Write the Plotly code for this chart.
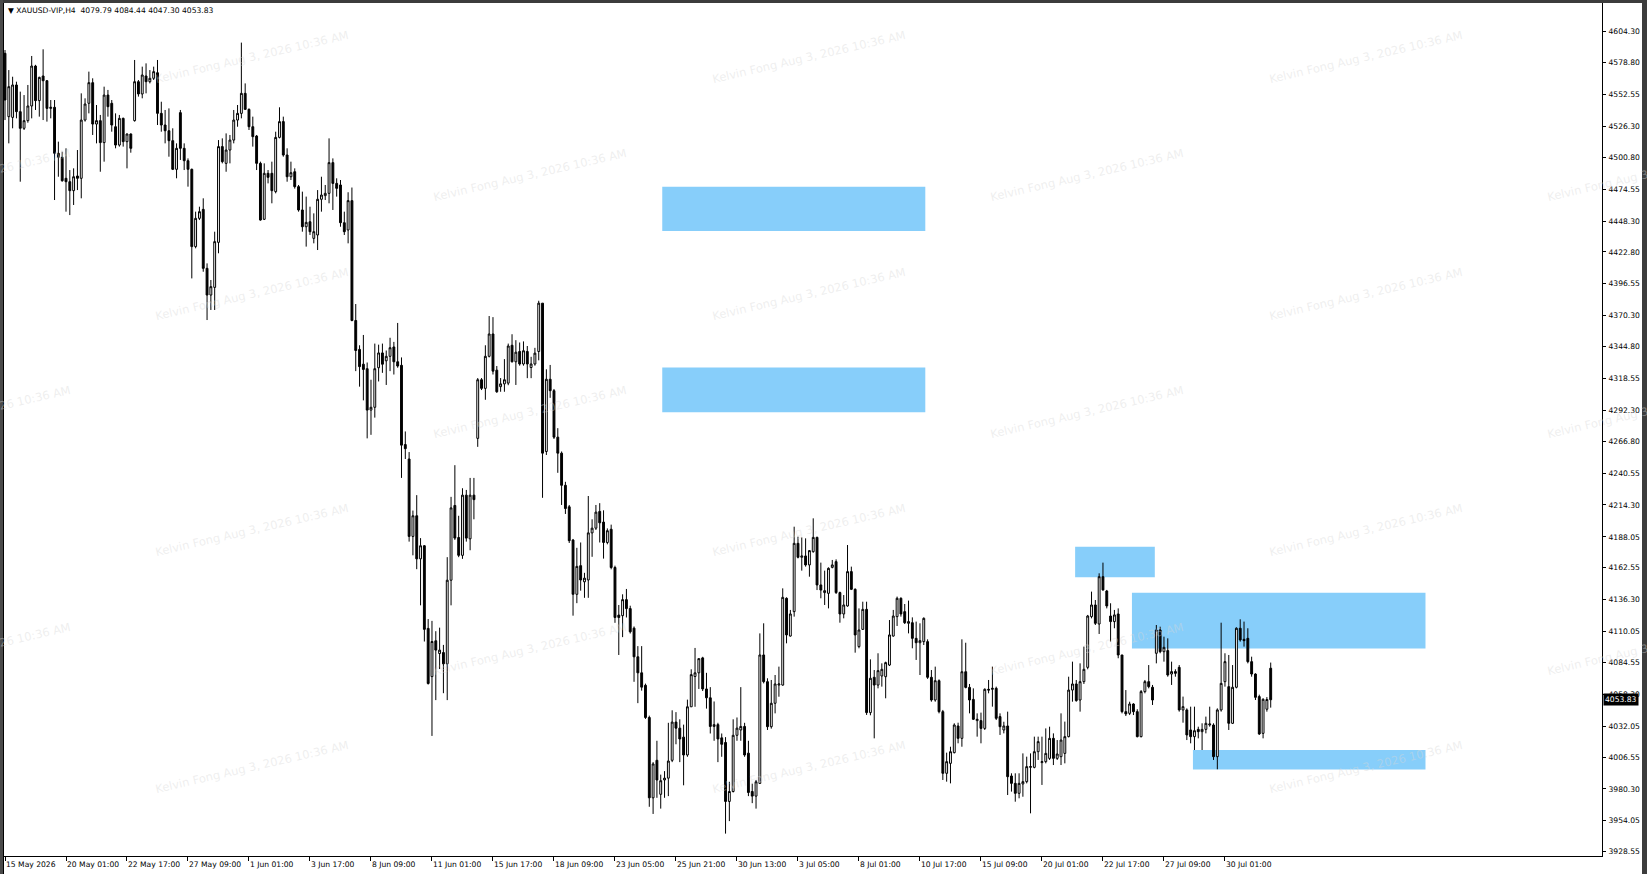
import plotly.graph_objects as go

# ---------------- data (XAUUSD-VIP, H4) ----------------
open_ = [
    4586.5, 4534.3, 4533.7, 4560.4, 4538.4, 4524.7, 4531.0, 4543.1, 4576.0, 4547.5,
    4567.8, 4563.9, 4541.1, 4542.0, 4504.1, 4500.8, 4483.5, 4480.7, 4473.3, 4485.4,
    4483.5, 4531.5, 4545.3, 4562.3, 4528.2, 4531.0, 4512.9, 4552.1, 4545.3, 4526.0,
    4510.9, 4532.9, 4513.7, 4520.0, 4531.0, 4563.1, 4553.0, 4567.8, 4563.1, 4565.9,
    4570.5, 4537.0, 4527.4, 4522.7, 4514.5, 4490.9, 4537.6, 4508.2, 4498.0, 4490.9,
    4427.2, 4450.5, 4457.9, 4409.3, 4387.3, 4393.6, 4430.7, 4509.6, 4495.8, 4506.8,
    4515.0, 4531.5, 4537.0, 4553.5, 4540.3, 4526.0, 4518.3, 4495.8, 4449.7, 4487.6,
    4487.6, 4472.5, 4517.2, 4530.2, 4502.7, 4484.8, 4488.9, 4476.6, 4457.4, 4443.6,
    4447.7, 4434.0, 4436.8, 4466.2, 4469.2, 4471.1, 4496.4, 4479.3, 4478.0, 4446.9,
    4440.9, 4465.1, 4366.3, 4342.5, 4330.3, 4326.6, 4292.5, 4294.8, 4327.4, 4339.6,
    4333.1, 4336.8, 4344.5, 4332.3, 4329.4, 4264.1, 4252.2, 4188.4, 4205.4, 4169.9,
    4180.7, 4112.6, 4072.9, 4102.4, 4091.9, 4092.7, 4083.4, 4152.3, 4213.9, 4187.5,
    4172.8, 4222.4, 4186.4, 4222.4, 4269.2, 4317.5, 4310.4, 4336.8, 4355.2, 4325.4,
    4311.8, 4314.1, 4314.7, 4345.9, 4332.3, 4340.8, 4330.5, 4340.8, 4327.6, 4330.5,
    4340.8, 4380.6, 4258.4, 4317.9, 4308.5, 4270.2, 4257.0, 4230.5, 4212.8, 4185.4,
    4140.7, 4164.3, 4151.0, 4152.5, 4191.3, 4195.2, 4209.0, 4200.2, 4183.4, 4194.3,
    4162.8, 4123.6, 4123.1, 4136.3, 4128.9, 4112.8, 4089.2, 4076.0, 4065.7, 4039.2,
    3973.0, 4003.9, 3975.9, 3987.7, 3989.2, 4003.9, 4035.4, 4030.4, 4023.0, 4008.3,
    4048.0, 4073.0, 4076.0, 4088.3, 4062.7, 4055.4, 4031.8, 4033.3, 4022.4, 4018.6,
    3970.0, 3978.2, 4024.5, 4028.9, 4031.8, 4009.8, 3978.2, 3974.4, 3984.9, 4090.7,
    4068.7, 4031.6, 4050.9, 4065.9, 4065.9, 4137.4, 4106.3, 4126.4, 4182.7, 4171.2,
    4172.3, 4164.9, 4175.8, 4187.6, 4148.4, 4142.1, 4141.5, 4162.9, 4167.6, 4142.1,
    4124.5, 4131.1, 4159.4, 4144.8, 4097.6, 4111.8, 4128.3, 4043.2, 4072.3, 4065.9,
    4073.4, 4072.8, 4082.4, 4106.3, 4122.3, 4137.4, 4126.4, 4116.8, 4117.3, 4104.4,
    4100.8, 4101.7, 4101.7, 4072.3, 4053.6, 4069.5, 4044.0, 3993.2, 4001.4, 4010.2,
    4032.2, 4022.0, 4076.9, 4064.0, 4054.1, 4036.6, 4036.6, 4030.2, 4062.4, 4062.4,
    4063.2, 4039.9, 4028.9, 4032.2, 3991.0, 3984.9, 3976.7, 3984.4, 3986.3, 3998.1,
    3998.1, 4011.0, 4002.0, 4002.8, 4005.5, 4022.0, 4005.5, 4006.9, 4009.6, 4023.4,
    4061.8, 4066.8, 4053.6, 4068.7, 4080.5, 4122.3, 4131.9, 4116.2, 4155.2, 4143.4,
    4122.8, 4118.2, 4124.5, 4090.7, 4044.0, 4042.6, 4050.3, 4044.0, 4023.4, 4060.5,
    4068.7, 4064.1, 4092.1, 4111.3, 4093.4, 4094.3, 4075.0, 4077.0, 4080.5, 4045.4,
    4045.4, 4028.9, 4023.4, 4029.4, 4027.5, 4029.4, 4033.0, 4033.0, 4006.9, 4045.4,
    4068.7, 4064.6, 4034.4, 4064.1, 4112.7, 4103.6, 4104.4, 4085.2, 4075.0, 4056.4,
    4026.1, 4046.0, 4079.79,
]
high = [
    4589.2, 4572.7, 4567.2, 4563.1, 4554.9, 4552.1, 4560.4, 4584.3, 4577.0, 4567.2,
    4589.8, 4564.5, 4548.0, 4548.0, 4513.7, 4505.4, 4508.2, 4490.3, 4491.7, 4506.8,
    4553.5, 4549.4, 4571.4, 4565.9, 4543.9, 4535.7, 4559.0, 4556.3, 4548.0, 4537.0,
    4535.7, 4533.5, 4520.5, 4520.5, 4581.0, 4564.5, 4575.5, 4578.2, 4572.7, 4575.5,
    4581.0, 4546.6, 4539.8, 4541.1, 4524.7, 4512.3, 4539.8, 4512.3, 4499.9, 4491.5,
    4456.0, 4460.1, 4467.0, 4413.4, 4399.7, 4439.5, 4515.0, 4516.4, 4520.5, 4519.2,
    4539.8, 4543.9, 4595.3, 4561.7, 4541.1, 4534.3, 4519.2, 4497.2, 4495.8, 4490.3,
    4497.2, 4521.9, 4542.0, 4534.3, 4508.2, 4497.2, 4491.7, 4478.0, 4472.5, 4468.4,
    4460.1, 4454.6, 4473.8, 4484.8, 4478.0, 4516.4, 4499.9, 4483.5, 4482.1, 4456.0,
    4472.0, 4475.9, 4379.9, 4345.9, 4354.4, 4331.7, 4317.5, 4347.3, 4346.4, 4347.3,
    4341.6, 4352.1, 4348.7, 4364.3, 4335.9, 4274.9, 4257.9, 4209.7, 4222.4, 4187.0,
    4181.3, 4120.3, 4118.8, 4110.3, 4113.2, 4099.0, 4171.3, 4221.0, 4247.1, 4205.4,
    4228.1, 4226.7, 4236.6, 4236.6, 4318.9, 4318.9, 4345.9, 4370.0, 4369.1, 4328.8,
    4318.9, 4334.5, 4347.3, 4355.0, 4350.1, 4348.2, 4349.1, 4345.3, 4336.4, 4343.8,
    4382.6, 4380.6, 4326.1, 4329.7, 4309.9, 4277.6, 4258.4, 4233.4, 4214.3, 4186.3,
    4179.0, 4183.4, 4158.4, 4221.7, 4202.5, 4214.3, 4215.8, 4209.9, 4195.0, 4198.1,
    4164.3, 4131.9, 4140.7, 4145.1, 4131.3, 4114.2, 4098.0, 4098.0, 4067.1, 4040.7,
    4002.4, 4020.0, 3992.1, 3995.0, 4034.8, 4045.1, 4043.6, 4037.7, 4033.3, 4053.9,
    4078.9, 4096.5, 4087.7, 4089.2, 4076.0, 4064.2, 4052.4, 4034.8, 4026.0, 4023.0,
    3986.2, 4037.7, 4039.2, 4064.2, 4034.8, 4020.0, 3984.7, 3987.7, 4108.5, 4116.8,
    4071.5, 4070.1, 4074.2, 4081.1, 4145.6, 4138.2, 4127.8, 4196.4, 4188.2, 4187.6,
    4186.8, 4177.2, 4203.3, 4188.2, 4166.8, 4160.2, 4162.9, 4169.0, 4169.5, 4142.9,
    4140.1, 4181.3, 4163.5, 4145.6, 4129.1, 4134.6, 4134.6, 4087.1, 4078.3, 4092.1,
    4083.8, 4085.2, 4119.5, 4127.8, 4138.8, 4138.2, 4132.7, 4135.5, 4121.7, 4118.2,
    4116.8, 4121.7, 4103.6, 4078.3, 4081.1, 4070.6, 4045.4, 4010.2, 4015.1, 4034.4,
    4034.9, 4103.6, 4100.8, 4066.8, 4063.2, 4042.6, 4043.2, 4063.2, 4070.1, 4081.1,
    4064.6, 4042.6, 4035.7, 4044.0, 3993.2, 3993.2, 3993.2, 4009.6, 4006.9, 4009.6,
    4023.4, 4023.4, 4023.4, 4030.2, 4031.6, 4026.1, 4020.6, 4042.6, 4035.8, 4072.8,
    4085.2, 4070.1, 4083.8, 4097.6, 4123.7, 4142.9, 4136.0, 4158.0, 4166.8, 4144.3,
    4133.3, 4127.8, 4129.1, 4090.7, 4061.8, 4052.2, 4050.9, 4046.0, 4061.8, 4070.1,
    4082.4, 4066.0, 4115.4, 4114.0, 4105.8, 4104.4, 4085.2, 4078.9, 4082.4, 4056.4,
    4046.7, 4048.1, 4048.1, 4031.6, 4034.4, 4039.9, 4048.1, 4034.4, 4046.7, 4117.3,
    4092.1, 4090.7, 4082.4, 4113.5, 4120.1, 4118.2, 4112.7, 4089.3, 4075.6, 4058.0,
    4055.0, 4056.0, 4084.44,
]
low = [
    4531.5, 4512.3, 4524.7, 4532.9, 4480.7, 4523.3, 4529.3, 4532.9, 4539.8, 4534.3,
    4531.5, 4530.2, 4532.9, 4465.6, 4484.8, 4480.7, 4456.0, 4453.2, 4461.5, 4473.8,
    4467.0, 4530.2, 4537.0, 4519.2, 4512.3, 4488.9, 4497.2, 4534.3, 4521.9, 4508.2,
    4509.6, 4509.6, 4491.7, 4504.6, 4530.2, 4550.8, 4549.4, 4553.5, 4561.7, 4564.5,
    4527.4, 4521.9, 4512.3, 4501.3, 4490.3, 4483.5, 4498.6, 4490.3, 4476.6, 4401.0,
    4425.8, 4449.1, 4406.5, 4366.7, 4375.0, 4375.0, 4421.7, 4495.8, 4488.9, 4495.8,
    4512.3, 4526.0, 4532.9, 4539.8, 4523.3, 4509.6, 4490.3, 4448.6, 4449.1, 4479.3,
    4462.9, 4471.1, 4516.4, 4501.3, 4480.7, 4482.1, 4475.0, 4456.0, 4439.5, 4427.2,
    4436.8, 4429.9, 4424.4, 4456.0, 4465.6, 4462.9, 4457.4, 4468.4, 4443.6, 4436.8,
    4429.9, 4365.7, 4324.6, 4311.8, 4300.5, 4269.2, 4272.1, 4286.3, 4316.1, 4323.2,
    4313.2, 4324.6, 4321.8, 4327.4, 4236.6, 4252.2, 4184.1, 4172.8, 4161.4, 4131.6,
    4101.8, 4066.3, 4024.0, 4053.5, 4079.1, 4059.2, 4053.5, 4131.6, 4185.5, 4171.3,
    4169.9, 4184.1, 4177.0, 4202.5, 4262.2, 4309.0, 4301.0, 4335.9, 4321.8, 4306.7,
    4307.6, 4307.6, 4313.0, 4331.7, 4313.2, 4329.1, 4329.1, 4318.8, 4318.8, 4329.1,
    4333.5, 4220.2, 4255.5, 4302.6, 4268.7, 4240.8, 4214.3, 4206.9, 4183.0, 4123.1,
    4133.4, 4143.7, 4137.8, 4137.8, 4171.6, 4193.7, 4183.4, 4170.1, 4181.9, 4161.3,
    4117.2, 4090.7, 4105.4, 4121.6, 4108.4, 4068.6, 4051.0, 4061.3, 4038.0, 3965.6,
    3959.7, 3973.0, 3964.1, 3973.0, 3974.4, 4002.4, 4017.1, 4002.4, 3983.3, 4006.8,
    4048.0, 4048.0, 4062.7, 4061.0, 4046.5, 4026.0, 4020.0, 4002.4, 4006.8, 3943.5,
    3953.8, 3977.4, 4020.0, 4020.0, 4006.8, 3974.4, 3968.6, 3964.1, 3984.4, 4067.3,
    4028.9, 4030.0, 4042.6, 4056.3, 4065.4, 4100.3, 4105.8, 4122.3, 4170.3, 4160.2,
    4163.5, 4155.2, 4175.0, 4144.2, 4137.4, 4131.9, 4129.1, 4162.1, 4141.0, 4117.3,
    4120.9, 4130.5, 4144.2, 4092.6, 4096.2, 4111.3, 4041.3, 4041.0, 4022.0, 4063.2,
    4064.6, 4055.0, 4081.6, 4105.8, 4114.6, 4122.3, 4116.2, 4108.5, 4096.2, 4086.6,
    4074.2, 4098.9, 4071.0, 4052.2, 4052.2, 4042.6, 3987.7, 3986.3, 3984.9, 4009.6,
    4017.9, 4015.1, 4063.2, 4042.6, 4037.1, 4023.4, 4017.9, 4028.9, 4059.1, 4048.1,
    4037.1, 4024.8, 4026.1, 3975.3, 3978.1, 3969.8, 3972.6, 3973.9, 3984.9, 3960.2,
    3997.3, 4004.2, 3983.6, 4001.4, 4004.2, 4000.0, 4004.2, 4000.0, 4001.4, 4022.8,
    4052.2, 4052.2, 4044.0, 4066.8, 4078.9, 4120.9, 4115.4, 4108.0, 4143.7, 4129.1,
    4101.7, 4112.7, 4088.0, 4042.6, 4040.4, 4041.2, 4041.2, 4022.8, 4022.8, 4059.1,
    4063.2, 4049.5, 4083.8, 4092.1, 4085.2, 4072.8, 4066.0, 4072.8, 4044.0, 4034.9,
    4020.6, 4017.9, 4012.4, 4022.0, 4012.4, 4026.1, 4031.6, 4004.2, 3996.5, 4044.0,
    4064.6, 4028.9, 4033.8, 4063.2, 4101.7, 4097.6, 4083.8, 4072.8, 4053.6, 4024.8,
    4022.0, 4044.0, 4047.30,
]
close = [
    4548.0, 4559.0, 4560.4, 4538.4, 4524.7, 4531.0, 4543.1, 4576.0, 4547.5, 4566.7,
    4563.9, 4541.1, 4542.0, 4504.1, 4500.8, 4481.5, 4480.7, 4473.3, 4484.8, 4483.5,
    4531.5, 4544.7, 4562.3, 4528.2, 4531.0, 4512.9, 4552.1, 4542.5, 4527.4, 4510.9,
    4532.9, 4513.7, 4520.0, 4508.2, 4563.1, 4553.0, 4568.6, 4563.1, 4565.9, 4571.4,
    4537.0, 4527.4, 4522.7, 4514.5, 4490.9, 4508.2, 4508.2, 4498.0, 4490.9, 4427.2,
    4450.5, 4456.0, 4409.3, 4387.3, 4394.2, 4431.3, 4509.6, 4497.2, 4506.8, 4515.0,
    4531.5, 4537.0, 4553.5, 4540.3, 4526.0, 4517.8, 4495.8, 4449.1, 4487.6, 4484.3,
    4473.3, 4517.2, 4530.2, 4502.7, 4484.8, 4488.1, 4476.6, 4457.4, 4443.6, 4447.2,
    4439.5, 4439.5, 4466.2, 4469.7, 4471.1, 4496.4, 4479.3, 4475.2, 4446.9, 4439.5,
    4465.1, 4366.3, 4341.6, 4328.3, 4326.0, 4292.5, 4294.8, 4326.6, 4339.6, 4330.3,
    4336.8, 4343.9, 4332.3, 4328.8, 4263.6, 4260.7, 4188.4, 4205.4, 4169.9, 4180.7,
    4111.8, 4067.2, 4101.8, 4094.7, 4094.7, 4083.4, 4152.3, 4211.9, 4187.0, 4172.8,
    4222.4, 4187.0, 4222.4, 4218.7, 4317.5, 4310.4, 4336.8, 4355.2, 4324.6, 4307.6,
    4314.1, 4317.5, 4345.3, 4332.3, 4340.2, 4330.5, 4341.4, 4330.5, 4330.5, 4339.4,
    4380.6, 4257.0, 4317.9, 4308.5, 4270.2, 4257.0, 4230.5, 4211.4, 4184.9, 4140.7,
    4163.7, 4152.5, 4154.0, 4191.3, 4195.2, 4208.4, 4199.6, 4183.4, 4193.1, 4162.8,
    4121.6, 4121.6, 4136.3, 4128.9, 4109.8, 4089.2, 4076.0, 4064.2, 4039.2, 3973.0,
    4000.9, 3987.7, 3987.1, 3989.2, 4003.3, 4035.4, 4030.4, 4021.5, 4008.3, 4048.0,
    4074.5, 4076.0, 4087.7, 4062.7, 4055.4, 4031.8, 4033.3, 4021.5, 4017.1, 3970.0,
    3978.2, 4024.5, 4030.4, 4031.8, 4008.3, 3977.4, 3974.4, 3986.2, 4090.7, 4068.7,
    4031.6, 4050.9, 4066.8, 4066.8, 4138.2, 4107.2, 4124.5, 4182.7, 4171.2, 4172.3,
    4164.9, 4176.7, 4187.6, 4148.4, 4144.2, 4143.7, 4162.1, 4164.9, 4142.1, 4124.5,
    4131.9, 4159.4, 4144.8, 4107.2, 4111.3, 4128.3, 4043.2, 4071.5, 4065.9, 4077.8,
    4078.9, 4084.4, 4107.2, 4122.8, 4137.4, 4124.5, 4117.3, 4118.2, 4104.4, 4100.8,
    4102.5, 4120.9, 4072.3, 4053.6, 4069.5, 4044.0, 3993.2, 4002.8, 4011.0, 4033.0,
    4022.0, 4076.9, 4064.0, 4053.6, 4037.7, 4037.7, 4030.2, 4062.4, 4061.8, 4063.2,
    4038.5, 4031.6, 4032.2, 3990.4, 3984.9, 3976.7, 3984.9, 3986.3, 3998.7, 3998.7,
    4011.0, 4019.3, 4002.8, 4009.6, 4022.0, 4005.5, 4009.1, 4020.6, 4023.4, 4061.8,
    4066.8, 4053.1, 4068.7, 4078.9, 4122.8, 4131.9, 4116.8, 4155.2, 4144.3, 4131.1,
    4118.2, 4123.7, 4090.7, 4044.0, 4042.1, 4050.3, 4044.0, 4023.4, 4060.5, 4068.7,
    4064.6, 4053.6, 4111.3, 4093.4, 4097.0, 4074.2, 4077.0, 4075.6, 4045.4, 4048.1,
    4024.8, 4023.4, 4028.3, 4027.5, 4029.4, 4034.4, 4033.8, 4006.9, 4045.4, 4067.3,
    4085.2, 4034.4, 4064.1, 4112.7, 4103.1, 4102.5, 4085.2, 4075.0, 4055.8, 4025.6,
    4054.2, 4054.0, 4053.83,
]
bar_index = list(range(len(close)))

time_labels = [
    "15 May 2026", "20 May 01:00", "22 May 17:00", "27 May 09:00", "1 Jun 01:00",
    "3 Jun 17:00", "8 Jun 09:00", "11 Jun 01:00", "15 Jun 17:00", "18 Jun 09:00",
    "23 Jun 05:00", "25 Jun 21:00", "30 Jun 13:00", "3 Jul 05:00", "8 Jul 01:00",
    "10 Jul 17:00", "15 Jul 09:00", "20 Jul 01:00", "22 Jul 17:00", "27 Jul 09:00",
    "30 Jul 01:00",
]
bars_per_label = 16
time_tick_bars = [k * bars_per_label for k in range(len(time_labels))]

price_ticks = [
    4604.30, 4578.80, 4552.55, 4526.30, 4500.80, 4474.55, 4448.30, 4422.80, 4396.55,
    4370.30, 4344.80, 4318.55, 4292.30, 4266.80, 4240.55, 4214.30, 4188.05, 4162.55,
    4136.30, 4110.05, 4084.55, 4058.30, 4032.05, 4006.55, 3980.30, 3954.05, 3928.55,
]

# supply / demand zones (bar index, price)
zone_x0 = [172.4, 172.4, 280.7, 295.6, 311.6]
zone_x1 = [241.4, 241.4, 301.6, 372.6, 372.6]
zone_y0 = [4440.0, 4290.8, 4154.7, 4096.1, 3996.4]
zone_y1 = [4476.5, 4327.6, 4179.9, 4142.0, 4012.4]

symbol = "XAUUSD-VIP,H4"
watermark = "Kelvin Fong Aug 3, 2026 10:36 AM"

# ---------------- layout geometry ----------------
W, H = 1647, 874
ML, MR, MT, MB = 4, 45, 3, 18
PW, PH = W - ML - MR, H - MT - MB
FONT = "DejaVu Sans"
FS = 7.6


def px(x):
    return (x - ML) / PW


def py(y):
    return 1 - (y - MT) / PH


fig = go.Figure()
fig.add_trace(go.Candlestick(
    x=bar_index, open=open_, high=high, low=low, close=close,
    increasing=dict(line=dict(color="black", width=1), fillcolor="white"),
    decreasing=dict(line=dict(color="black", width=1), fillcolor="black"),
    whiskerwidth=0, hoverinfo="skip", showlegend=False,
))

shapes = []
for x0, x1, y0, y1 in zip(zone_x0, zone_x1, zone_y0, zone_y1):
    shapes.append(dict(type="rect", xref="x", yref="y", x0=x0, x1=x1, y0=y0, y1=y1,
                       fillcolor="#87CEFA", line=dict(width=0), layer="below"))
# window frame
shapes += [
    dict(type="rect", xref="paper", yref="paper", x0=px(0), x1=px(W), y0=py(3), y1=py(0),
         fillcolor="#3c3c3c", line=dict(width=0), layer="above"),
    dict(type="rect", xref="paper", yref="paper", x0=px(0), x1=px(3), y0=py(H), y1=py(0),
         fillcolor="#4a4a4a", line=dict(width=0), layer="above"),
    dict(type="line", xref="paper", yref="paper", x0=px(3.5), x1=px(3.5), y0=py(H), y1=py(3),
         line=dict(color="black", width=1), layer="above"),
    dict(type="rect", xref="paper", yref="paper", x0=px(1642), x1=px(W), y0=py(H), y1=py(0),
         fillcolor="#3c3c3c", line=dict(width=0), layer="above"),
]

annotations = []
# watermarks
row_y = [57, 175, 294, 412, 530, 649, 767]
for r, yy in enumerate(row_y):
    xs = [252, 809, 1366] if r % 2 == 0 else [-26, 530, 1087, 1644]
    for xx in xs:
        annotations.append(dict(text=watermark, xref="paper", yref="paper", x=px(xx), y=py(yy),
                                xanchor="center", yanchor="middle",
                                showarrow=False, textangle=-13,
                                font=dict(family=FONT, size=11.5, color="rgba(215,215,215,0.42)")))
# header
annotations.append(dict(
    text="\u25BC " + symbol + "\u00a0\u00a0" + " ".join(f"{v:.2f}" for v in (open_[-1], high[-1], low[-1], close[-1])),
    xref="paper", yref="paper", x=px(6), y=py(4), xanchor="left", yanchor="top",
    showarrow=False, font=dict(family=FONT, size=FS, color="black")))
# current price label
annotations.append(dict(text=f"{close[-1]:.2f}", xref="paper", yref="y", x=1, y=close[-1],
                        xanchor="left", yanchor="middle", xshift=1, showarrow=False,
                        bgcolor="black", borderpad=1,
                        font=dict(family=FONT, size=FS, color="white")))

fig.update_layout(
    width=W, height=H,
    margin=dict(l=ML, r=MR, t=MT, b=MB, pad=0, autoexpand=False),
    paper_bgcolor="white", plot_bgcolor="white",
    shapes=shapes, annotations=annotations,
    font=dict(family=FONT, size=FS, color="black"),
    xaxis=dict(
        range=[-0.262, 418.9], rangeslider=dict(visible=False),
        tickmode="array", tickvals=time_tick_bars, ticktext=time_labels, tickangle=0,
        ticks="outside", ticklen=4, tickcolor="black", tickwidth=1,
        ticklabelposition="outside right", ticklabelstandoff=1, automargin=False,
        showgrid=False, zeroline=False, showline=True, linecolor="black", linewidth=1,
        tickfont=dict(family=FONT, size=FS, color="black"),
    ),
    yaxis=dict(
        range=[3925.05, 4627.95], side="right", automargin=False,
        tickmode="array", tickvals=price_ticks, ticktext=[f"{v:.2f}" for v in price_ticks],
        ticks="outside", ticklen=3, tickcolor="black", tickwidth=1, ticklabelstandoff=1,
        showgrid=False, zeroline=False, showline=True, linecolor="black", linewidth=1,
        tickfont=dict(family=FONT, size=FS, color="black"),
    ),
)

fig.write_html("out.html", config={"displayModeBar": False},
               post_script="document.body.style.margin='0';document.body.style.overflow='hidden';")
